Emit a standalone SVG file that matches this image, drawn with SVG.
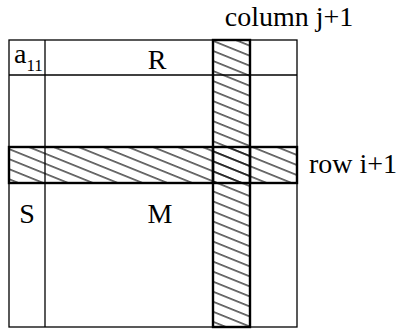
<svg xmlns="http://www.w3.org/2000/svg" width="398" height="331" viewBox="0 0 398 331">
<defs>
<pattern id="hatch" patternUnits="userSpaceOnUse" width="10" height="9.3" patternTransform="rotate(22)">
<line x1="-1" y1="4.6" x2="11" y2="4.6" stroke="#000" stroke-width="1.1"/>
</pattern>
</defs>
<style>
.thin{fill:none;stroke:#000;stroke-width:1.3}
.strip{fill:url(#hatch);stroke:#000;stroke-width:2.4}
.t{font-family:"Liberation Serif","Times New Roman",serif;font-size:28px;fill:#000}
</style>
<rect width="398" height="331" fill="#fff"/>
<g id="matrix">
<rect class="thin" x="9" y="40" width="288" height="287"/>
<line class="thin" x1="45" y1="40" x2="45" y2="327"/>
<line class="thin" x1="9" y1="75" x2="297" y2="75"/>
</g>
<g id="column-strip">
<rect class="strip" x="213" y="40" width="37" height="287"/>
</g>
<g id="row-strip">
<rect class="strip" x="9" y="147" width="288" height="36"/>
<line x1="213" y1="147" x2="213" y2="183" stroke="#000" stroke-width="2.4"/>
<line x1="250" y1="147" x2="250" y2="183" stroke="#000" stroke-width="2.4"/>
</g>
<g id="labels">
<text class="t" x="14" y="63">a<tspan font-size="17" dy="8">11</tspan></text>
<text class="t" x="157" y="69" text-anchor="middle">R</text>
<text class="t" x="27" y="223" text-anchor="middle">S</text>
<text class="t" x="160" y="223" text-anchor="middle">M</text>
<text class="t" x="289" y="26" text-anchor="middle">column j+1</text>
<text class="t" x="309" y="173">row i+1</text>
</g>
</svg>
